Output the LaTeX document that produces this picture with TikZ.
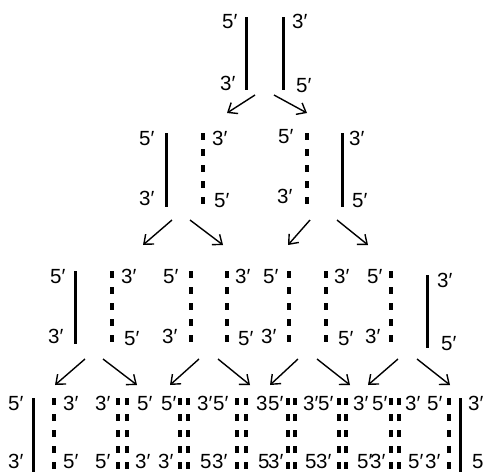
\documentclass[tikz,border=0pt]{standalone}
\usepackage{fontspec}
\setmainfont{Liberation Sans}
\usetikzlibrary{arrows.meta}

\tikzset{
  lab/.style={anchor=base west, inner sep=0pt, font=\fontsize{20.5}{24}\selectfont},
  solidstrand/.style={line width=3pt},
  dashstrand/.style={line width=3.4pt, dash pattern=on 7pt off 9pt},
  arr/.style={line width=1.4pt, -{Straight Barb[length=8pt,width=13pt,line width=1.4pt]}},
}

\begin{document}
\begin{tikzpicture}[x=1pt,y=-1pt]
\useasboundingbox (0,0) rectangle (484,472);

% ---- generation 1: parental duplex ----
\draw[solidstrand] (246,17) -- (246,90);
\draw[solidstrand] (283,17) -- (283,90);
\node[lab] (g1a) at (222,28) {5′};
\node[lab] (g1b) at (220,90) {3′};
\node[lab] (g1c) at (292,28) {3′};
\node[lab] (g1d) at (296,92) {5′};

% ---- generation 2 ----
\draw[solidstrand] (166,133) -- (166,207);
\draw[dashstrand]  (203,133) -- (203,207);
\draw[dashstrand]  (307,133) -- (307,207);
\draw[solidstrand] (342,133) -- (342,207);
\node[lab] (g2a) at (139,145) {5′};
\node[lab] (g2b) at (139,205) {3′};
\node[lab] (g2c) at (212,145) {3′};
\node[lab] (g2d) at (214,207) {5′};
\node[lab] (g2e) at (278,143) {5′};
\node[lab] (g2f) at (277,203) {3′};
\node[lab] (g2g) at (349,145) {3′};
\node[lab] (g2h) at (352,207) {5′};

% ---- generation 3 ----
\draw[solidstrand] (75,271) -- (75,344);
\foreach \x in {112,191,227,289,326,391}
  \draw[dashstrand] (\x,271) -- (\x,344);
\draw[solidstrand] (427,275) -- (427,348);
\node[lab] (g3a) at (50,283)  {5′};
\node[lab] (g3b) at (48,343)  {3′};
\node[lab] (g3c) at (121,283) {3′};
\node[lab] (g3d) at (124,345) {5′};
\node[lab] (g3e) at (163,283) {5′};
\node[lab] (g3f) at (162,343) {3′};
\node[lab] (g3g) at (235,283) {3′};
\node[lab] (g3h) at (238,345) {5′};
\node[lab] (g3i) at (263,283) {5′};
\node[lab] (g3j) at (261,343) {3′};
\node[lab] (g3k) at (334,283) {3′};
\node[lab] (g3l) at (338,345) {5′};
\node[lab] (g3m) at (367,283) {5′};
\node[lab] (g3n) at (365,343) {3′};
\node[lab] (g3o) at (437,287) {3′};
\node[lab] (g3p) at (441,350) {5′};

% ---- generation 4 ----
\draw[solidstrand] (33,398) -- (33,472);
\foreach \x in {54,118,127,180,188,237,246,288,295,339,346,391,399,449}
  \draw[dashstrand] (\x,398) -- (\x,472);
\draw[solidstrand] (460,398) -- (460,472);
% 5' / 3' ends at the top of the strands
\node[lab] (g4t1)  at (8,410)   {5′};
\node[lab] (g4t2)  at (63,410)  {3′};
\node[lab] (g4t3)  at (95,410)  {3′};
\node[lab] (g4t4)  at (137,410) {5′};
\node[lab] (g4t5)  at (161,410) {5′};
\node[lab] (g4t6)  at (197,410) {3′};
\node[lab] (g4t7)  at (213,410) {5′};
\node[lab] (g4t8)  at (256,410) {3};
\node[lab] (g4t9)  at (268,410) {5′};
\node[lab] (g4t10) at (303,410) {3′};
\node[lab] (g4t11) at (318,410) {5′};
\node[lab] (g4t12) at (353,410) {3′};
\node[lab] (g4t13) at (372,410) {5′};
\node[lab] (g4t14) at (405,410) {3′};
\node[lab] (g4t15) at (427,410) {5′};
\node[lab] (g4t16) at (468,410) {3′};
% ends at the bottom of the strands
\node[lab] (g4b1)  at (8,468)   {3′};
\node[lab] (g4b2)  at (63,468)  {5′};
\node[lab] (g4b3)  at (95,468)  {5′};
\node[lab] (g4b4)  at (135,468) {3′};
\node[lab] (g4b5)  at (158,468) {3′};
\node[lab] (g4b6)  at (200,468) {5};
\node[lab] (g4b7)  at (212,468) {3′};
\node[lab] (g4b8)  at (258,468) {5};
\node[lab] (g4b9)  at (268,468) {3′};
\node[lab] (g4b10) at (305,468) {5};
\node[lab] (g4b11) at (316,468) {3′};
\node[lab] (g4b12) at (357,468) {5′};
\node[lab] (g4b13) at (370,468) {3′};
\node[lab] (g4b14) at (408,468) {5′};
\node[lab] (g4b15) at (425,468) {3′};
\node[lab] (g4b16) at (472,468) {5};

% ---- replication arrows ----
\foreach \n/\sx/\sy/\ex/\ey in {
   a/255/95/227/113, b/274/95/307/113,
   c/172/220/143/245, d/190/220/223/245, e/310/220/288/245, f/337/220/368/245,
   g/85/359/55/385, h/103/359/137/385, i/199/359/170/385, j/218/359/250/385,
   k/298/359/270/385, l/317/359/350/385, m/398/359/368/385, n/417/359/450/385} {
  \coordinate (\n-from) at (\sx,\sy);
  \coordinate (\n-to) at (\ex,\ey);
  \draw[arr] (\n-from) -- (\n-to);
}
\end{tikzpicture}
\end{document}
